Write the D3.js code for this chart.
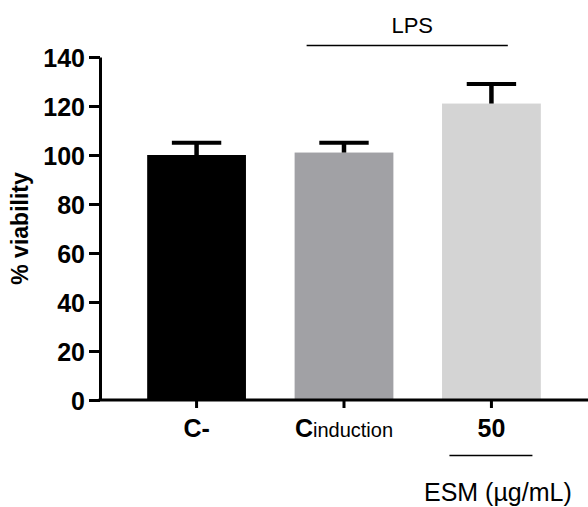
<!DOCTYPE html>
<html>
<head>
<meta charset="utf-8">
<script src="https://cdn.jsdelivr.net/npm/d3@7"></script>
<style>
  body { margin: 0; background: #fff; }
  svg { display: block; font-family: "Liberation Sans", Arial, Helvetica, sans-serif; }
</style>
</head>
<body>
<svg width="588" height="507"></svg>
<script>
// data
var groups = ["C-", "Cinduction", "50"];
var means = [100, 101, 121];
var errors = [5, 4, 8];
var barColors = ["#000000", "#a1a1a5", "#d4d4d4"];
var yTicks = [0, 20, 40, 60, 80, 100, 120, 140];

var svg = d3.select("svg"),
    width = +svg.attr("width"),
    height = +svg.attr("height");

var margin = {top: 57, left: 100, bottom: 107};
var yBase = height - margin.bottom;

var xScale = d3.scaleBand()
    .domain(groups)
    .range([margin.left, width])
    .paddingInner(0.33)
    .paddingOuter(0.32);

var yScale = d3.scaleLinear()
    .domain([0, 140])
    .range([yBase, margin.top]);

var data = groups.map((g, i) => ({group: g, mean: means[i], err: errors[i], color: barColors[i]}));

// bars
svg.selectAll("rect.bar")
    .data(data)
    .enter().append("rect")
    .attr("class", "bar")
    .attr("x", d => xScale(d.group))
    .attr("width", xScale.bandwidth())
    .attr("y", d => yScale(d.mean))
    .attr("height", d => yScale(0) - yScale(d.mean))
    .attr("fill", d => d.color);

// error bars (upper only)
var cx = d => xScale(d.group) + xScale.bandwidth() / 2;
svg.selectAll("line.stem")
    .data(data)
    .enter().append("line")
    .attr("x1", cx).attr("x2", cx)
    .attr("y1", d => yScale(d.mean))
    .attr("y2", d => yScale(d.mean + d.err))
    .attr("stroke", "#000")
    .attr("stroke-width", 4.5);

svg.selectAll("line.cap")
    .data(data)
    .enter().append("line")
    .attr("x1", d => cx(d) - xScale.bandwidth() / 4)
    .attr("x2", d => cx(d) + xScale.bandwidth() / 4)
    .attr("y1", d => yScale(d.mean + d.err))
    .attr("y2", d => yScale(d.mean + d.err))
    .attr("stroke", "#000")
    .attr("stroke-width", 4);

// y axis
var yAxis = d3.axisLeft(yScale).tickValues(yTicks).tickSize(11).tickPadding(4).tickSizeOuter(0);
var gy = svg.append("g")
    .attr("transform", `translate(${margin.left},0)`)
    .call(yAxis);
gy.select(".domain").attr("stroke-width", 3);
gy.selectAll(".tick line").attr("stroke-width", 3);
gy.selectAll(".tick text")
    .attr("font-size", 25)
    .attr("font-weight", "bold")
    .attr("font-family", "Liberation Sans, Arial, sans-serif")
    .attr("fill", "#000")
    .attr("dy", "0.36em");

// x axis
var xAxis = d3.axisBottom(xScale).tickSize(8).tickSizeOuter(0).tickFormat("");
var gx = svg.append("g")
    .attr("transform", `translate(0,${yBase})`)
    .call(xAxis);
gx.select(".domain").attr("stroke-width", 3).attr("d", `M${margin.left - 1.5},0H${width}`);
gx.selectAll(".tick line").attr("stroke-width", 3);

// x labels
gx.selectAll(".tick").each(function(d) {
    var t = d3.select(this).append("text")
        .attr("y", 37)
        .attr("fill", "#000")
        .attr("text-anchor", "middle")
        .attr("font-family", "Liberation Sans, Arial, sans-serif");
    if (d === "Cinduction") {
        t.append("tspan").attr("font-size", 25).attr("font-weight", "bold").text("C");
        t.append("tspan").attr("font-size", 20).text("induction");
    } else {
        t.attr("font-size", 25).attr("font-weight", "bold").text(d);
    }
});

// y title
svg.append("text")
    .attr("transform", `translate(28,${(yBase + margin.top) / 2}) rotate(-90)`)
    .attr("text-anchor", "middle")
    .attr("font-size", 23)
    .attr("font-weight", "bold")
    .text("% viability");

// LPS bracket over Cinduction and 50
var x1 = xScale("Cinduction") + 12, x2 = xScale("50") + xScale.bandwidth() - 33;
svg.append("line")
    .attr("x1", x1).attr("x2", x2)
    .attr("y1", 45.5).attr("y2", 45.5)
    .attr("stroke", "#000").attr("stroke-width", 1.5);
svg.append("text")
    .attr("x", (x1 + x2) / 2 + 5)
    .attr("y", 33)
    .attr("text-anchor", "middle")
    .attr("font-size", 22)
    .text("LPS");

// ESM label under 50
var ex = xScale("50") + xScale.bandwidth() / 2;
svg.append("line")
    .attr("x1", ex - 42).attr("x2", ex + 41)
    .attr("y1", 455.5).attr("y2", 455.5)
    .attr("stroke", "#000").attr("stroke-width", 1.5);
svg.append("text")
    .attr("x", 424)
    .attr("y", 501)
    .attr("font-size", 25)
    .text("ESM (\u00b5g/mL)");
</script>
</body>
</html>
